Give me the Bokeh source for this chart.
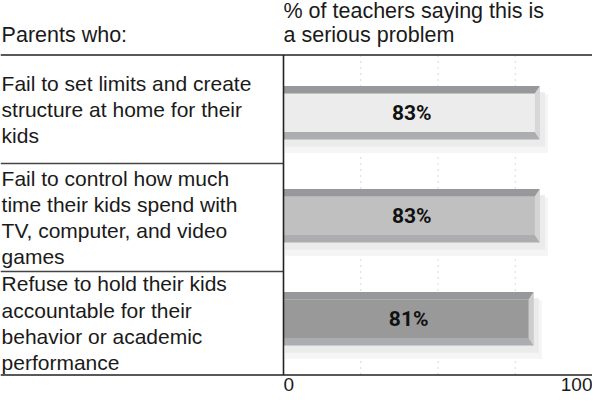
from bokeh.plotting import figure
from bokeh.models import Range1d
from bokeh.core.properties import value
from bokeh.embed import file_html
from bokeh.resources import INLINE

# ---------------- data ----------------
categories = [
    "Fail to set limits and create\nstructure at home for their\nkids",
    "Fail to control how much\ntime their kids spend with\nTV, computer, and video\ngames",
    "Refuse to hold their kids\naccountable for their\nbehavior or academic\nperformance",
]
values = [83, 83, 81]
value_labels = ["83%", "83%", "81%"]
face_colors = ["#ececec", "#c0c0c0", "#999999"]
end_colors = ["#d7d7d7", "#d4d4d4", "#cdcdcd"]
header_left = "Parents who:"
header_right = "% of teachers saying this is\na serious problem"
grid_values = [25, 50, 75]
tick_values = [0, 100]
tick_labels = ["0", "100"]
tick_aligns = ["left", "right"]

# ---------------- layout ----------------
FIG_W, FIG_H = 592, 396
ZERO_PX = 283                       # canvas x of value 0
PPU_X = (FIG_W - ZERO_PX) / 100.0   # pixels per percent
PPU_Y = 103.0                       # pixels per row
ROW0_PX = 112.3                     # canvas y of first bar centre
x_start = -ZERO_PX / PPU_X
y_top = -ROW0_PX / PPU_Y
y_bot = (FIG_H - ROW0_PX) / PPU_Y

ROW_EDGES = [-0.561, 0.492, 1.541, 2.546]
BAR_H = 0.52
BEV_Y = 7.5 / PPU_Y
BEV_X = 5.0 / PPU_X
LABEL_X = x_start + 0.35
HEADER_Y = -0.638
TICK_Y = 2.57

p = figure(width=FIG_W, height=FIG_H,
           x_range=Range1d(x_start, 100), y_range=Range1d(y_bot, y_top),
           output_backend="svg", toolbar_location=None, min_border=0,
           x_axis_location=None, y_axis_location=None)
p.grid.visible = False
p.outline_line_color = None
p.background_fill_color = "white"

ys = list(range(len(values)))

# gridlines (dotted)
p.segment(x0=grid_values, x1=grid_values,
          y0=[ROW_EDGES[0]] * len(grid_values), y1=[ROW_EDGES[-1]] * len(grid_values),
          line_color="#d9d9d9", line_width=1, line_dash="2 4")

# shadows
p.quad(left=[0.5] * 3, right=[v + 2.6 for v in values],
       top=[y - BAR_H / 2 + 0.08 for y in ys], bottom=[y + BAR_H / 2 + 0.13 for y in ys],
       fill_color="#f5f5f5", line_color=None)
p.quad(left=[0.5] * 3, right=[v + 1.6 for v in values],
       top=[y - BAR_H / 2 + 0.06 for y in ys], bottom=[y + BAR_H / 2 + 0.07 for y in ys],
       fill_color="#ebebeb", line_color=None)

# bar faces
p.quad(left=[0] * 3, right=[v - BEV_X for v in values],
       top=[y - BAR_H / 2 + BEV_Y for y in ys], bottom=[y + BAR_H / 2 - BEV_Y for y in ys],
       fill_color=face_colors, line_color=None)

# bevels
top_xs, top_ys, bot_xs, bot_ys, end_xs, end_ys = [], [], [], [], [], []
for v, y in zip(values, ys):
    t, b = y - BAR_H / 2, y + BAR_H / 2
    top_xs.append([0, v, v - BEV_X, 0])
    top_ys.append([t, t, t + BEV_Y, t + BEV_Y])
    bot_xs.append([0, v - BEV_X, v, 0])
    bot_ys.append([b - BEV_Y, b - BEV_Y, b, b])
    end_xs.append([v - BEV_X, v, v, v - BEV_X])
    end_ys.append([t + BEV_Y, t, b, b - BEV_Y])
p.patches(xs=top_xs, ys=top_ys, fill_color="#97989c", line_color=None)
p.patches(xs=bot_xs, ys=bot_ys, fill_color="#acadb1", line_color=None)
p.patches(xs=end_xs, ys=end_ys, fill_color=end_colors, line_color=None)

# value labels
p.text(x=[v / 2 for v in values], y=ys, text=value_labels,
       text_font=value("Roboto"), text_font_style="bold",
       text_font_size="21px", text_color="#111111",
       text_align="center", text_baseline="middle")

# rules
p.segment(x0=[x_start, x_start], x1=[100, 100],
          y0=[ROW_EDGES[0], ROW_EDGES[-1]], y1=[ROW_EDGES[0], ROW_EDGES[-1]],
          line_color="#222222", line_width=1.6)
p.segment(x0=[x_start] * 2, x1=[0] * 2,
          y0=ROW_EDGES[1:3], y1=ROW_EDGES[1:3],
          line_color="#444444", line_width=1.4)
p.segment(x0=[0], x1=[0], y0=[ROW_EDGES[0]], y1=[ROW_EDGES[-1]],
          line_color="#222222", line_width=1.6)

# category labels
row_centres = [(ROW_EDGES[i] + ROW_EDGES[i + 1]) / 2 for i in range(len(categories))]
p.text(x=[LABEL_X] * len(categories), y=row_centres, text=categories,
       text_font=value("Liberation Sans"), text_font_size="21px",
       text_color="#1a1a1a", text_align="left", text_baseline="middle",
       text_line_height=1.14)

# headers
p.text(x=[LABEL_X, 0], y=[HEADER_Y, HEADER_Y], text=[header_left, header_right],
       text_font=value("Liberation Sans"), text_font_size="21.5px",
       text_color="#1a1a1a", text_align="left", text_baseline="bottom",
       text_line_height=1.0)

# tick labels
p.text(x=tick_values, y=[TICK_Y] * len(tick_values), text=tick_labels,
       text_font=value("Liberation Sans"), text_font_size="19px",
       text_color="#1a1a1a", text_align=tick_aligns, text_baseline="top")

open("out.html", "w").write(file_html(p, INLINE))
